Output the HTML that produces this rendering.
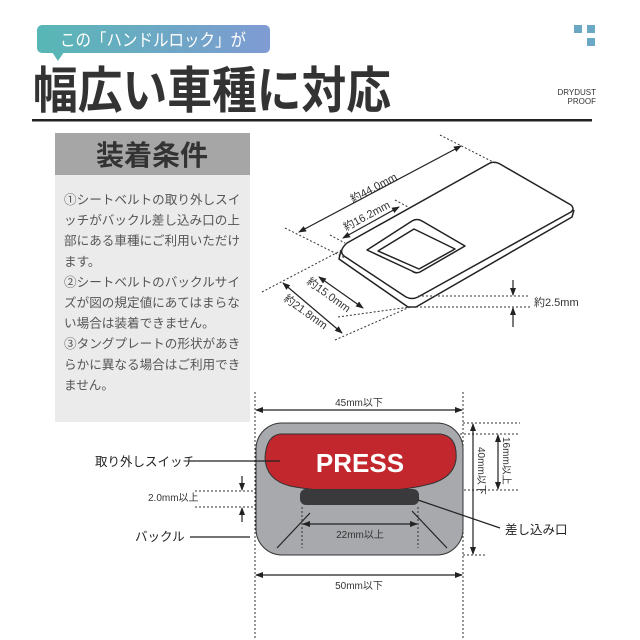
<!DOCTYPE html>
<html><head><meta charset="utf-8"><style>
html,body{margin:0;padding:0;background:#fff;}
svg{display:block;}
text{font-family:"Liberation Sans","Noto Sans CJK JP",sans-serif;}
</style></head><body>
<svg width="640" height="640" viewBox="0 0 640 640" xmlns="http://www.w3.org/2000/svg">
<defs>
<linearGradient id="g" x1="0" x2="1" y1="0" y2="0"><stop offset="0" stop-color="#58b7b5"/><stop offset="1" stop-color="#7f9bd3"/></linearGradient>
<marker id="a" markerWidth="8" markerHeight="8" refX="7" refY="4" orient="auto-start-reverse" markerUnits="userSpaceOnUse"><path d="M0,1 L8,4 L0,7z" fill="#222"/></marker>
</defs>
<rect x="37" y="25" width="233" height="28" rx="5" fill="url(#g)"/>
<path d="M52,52 L58,61 L64,52z" fill="#5ab6b6"/>
<text x="60" y="46" font-size="17" fill="#fff" textLength="186" lengthAdjust="spacingAndGlyphs">この「ハンドルロック」が</text>
<text x="33" y="108" font-size="50" font-weight="bold" fill="#333" textLength="358" lengthAdjust="spacingAndGlyphs">幅広い車種に対応</text>
<rect x="32" y="119" width="560" height="2.5" fill="#222"/>
<rect x="574" y="25" width="8" height="8" fill="#6aa8c6"/><rect x="587" y="25" width="8" height="8" fill="#6aa8c6"/><rect x="587" y="38" width="8" height="8" fill="#6aa8c6"/>
<text x="596" y="95" font-size="8" fill="#333" text-anchor="end">DRYDUST</text>
<text x="596" y="104" font-size="8" fill="#333" text-anchor="end">PROOF</text>
<rect x="55" y="133" width="195" height="42" fill="#a6a6a6"/>
<text x="152" y="165" font-size="28" font-weight="bold" fill="#333" text-anchor="middle">装着条件</text>
<rect x="55" y="175" width="195" height="247" fill="#ebebeb"/>
<g font-size="12.6" fill="#555">
<text x="64" y="204">①シートベルトの取り外しスイ</text>
<text x="64" y="224.6">ッチがバックル差し込み口の上</text>
<text x="64" y="245.2">部にある車種にご利用いただけ</text>
<text x="64" y="265.8">ます。</text>
<text x="64" y="286.4">②シートベルトのバックルサイ</text>
<text x="64" y="307">ズが図の規定値にあてはまらな</text>
<text x="64" y="327.6">い場合は装着できません。</text>
<text x="64" y="348.2">③タングプレートの形状があき</text>
<text x="64" y="368.8">らかに異なる場合はご利用でき</text>
<text x="64" y="389.4">ません。</text>
</g>
<g fill="none" stroke="#222" stroke-width="1.5" stroke-linejoin="round">
<path d="M341,250 L339,259 L408,307 L416,307 L572,217 L574,210"/>
<path d="M347,243 L490,163 Q495,161 500,164 L571,205 Q575,209 571,212 L418,297 Q412,300 406,297 L344,256 Q338,251 347,243z" fill="#fff"/>
<path d="M367,250 L412,221 Q417,218 422,221 L465,246 L420,272 Q416,274 412,271z"/>
<path d="M378,251 L414,229 L455,249 L419,269z"/>
</g>
<g stroke="#333" stroke-width="1" stroke-dasharray="2,2" fill="none">
<path d="M285,228 L345,258"/><path d="M440,135 L495,163"/>
<path d="M330,235 L345,243"/><path d="M395,200 L410,208"/>
<path d="M262,292 L342,250"/><path d="M338,317 L410,307"/>
<path d="M335,340 L410,307"/>
<path d="M418,296 L530,296"/><path d="M412,307 L530,307"/>
</g>
<g stroke="#222" stroke-width="1.2" fill="none">
<path d="M299,232 L461,146" marker-start="url(#a)" marker-end="url(#a)"/>
<path d="M343,238 L399,207" marker-start="url(#a)" marker-end="url(#a)"/>
<path d="M319,277 L363,308" marker-start="url(#a)" marker-end="url(#a)"/>
<path d="M283,283 L342,333" marker-start="url(#a)" marker-end="url(#a)"/>
<path d="M513,280 L513,295" marker-end="url(#a)"/>
<path d="M513,327 L513,308" marker-end="url(#a)"/>
</g>
<g font-size="11" fill="#333">
<text transform="translate(353,203) rotate(-28)">約44.0mm</text>
<text transform="translate(346,231) rotate(-28)">約16.2mm</text>
<text transform="translate(306,283) rotate(36)">約15.0mm</text>
<text transform="translate(283,300) rotate(36)">約21.8mm</text>
<text x="534" y="306">約2.5mm</text>
</g>
<g stroke="#333" stroke-width="1" stroke-dasharray="2,2" fill="none">
<path d="M255,392 L255,640"/><path d="M463,392 L463,640"/>
<path d="M463,423 L520,423"/><path d="M440,434 L520,434"/><path d="M420,490 L520,490"/><path d="M463,555 L485,555"/>
<path d="M195,491 L300,491"/><path d="M195,507 L300,507"/>
</g>
<rect x="256" y="423" width="207" height="132" rx="26" fill="#a7a9ac" stroke="#333" stroke-width="1"/>
<path d="M280,434 L440,434 Q458,436 456,460 Q453,478 430,484 Q400,492 360,491 Q320,492 290,486 Q266,480 265,458 Q266,436 280,434z" fill="#c1272d" stroke="#333" stroke-width="1"/>
<text x="360" y="472" font-size="26" font-weight="bold" fill="#fff" text-anchor="middle">PRESS</text>
<rect x="300" y="489" width="119" height="16" rx="6" fill="#3a3a3c"/>
<g stroke="#333" stroke-width="1" stroke-dasharray="2,2" fill="none">
<path d="M302,507 L302,548"/><path d="M418,507 L418,548"/>
</g>
<g stroke="#222" stroke-width="1.2" fill="none">
<path d="M256,410 L462,410" marker-start="url(#a)" marker-end="url(#a)"/>
<path d="M256,575 L462,575" marker-start="url(#a)" marker-end="url(#a)"/>
<path d="M473,424 L473,554" marker-start="url(#a)" marker-end="url(#a)"/>
<path d="M498,435 L498,489" marker-start="url(#a)" marker-end="url(#a)"/>
<path d="M303,524 L417,524" marker-start="url(#a)" marker-end="url(#a)"/>
<path d="M242,476 L242,490" marker-end="url(#a)"/>
<path d="M242,522 L242,508" marker-end="url(#a)"/>
<path d="M310,513 L277,548"/><path d="M412,511 L447,548"/>
<path d="M190,461 L280,461"/><path d="M190,537 L250,537"/>
<path d="M418,500 L500,528"/>
</g>
<g font-size="10" fill="#333">
<text x="359" y="406" text-anchor="middle">45mm以下</text>
<text x="359" y="589" text-anchor="middle">50mm以下</text>
<text x="360" y="538" text-anchor="middle">22mm以上</text>
<text x="148" y="501">2.0mm以上</text>
<text transform="translate(478,447) rotate(90)">40mm以下</text>
<text transform="translate(503,437) rotate(90)">16mm以上</text>
</g>
<g font-size="12.5" fill="#222">
<text x="95" y="466">取り外しスイッチ</text>
<text x="135" y="541">バックル</text>
<text x="505" y="534">差し込み口</text>
</g>
</svg>
</body></html>
